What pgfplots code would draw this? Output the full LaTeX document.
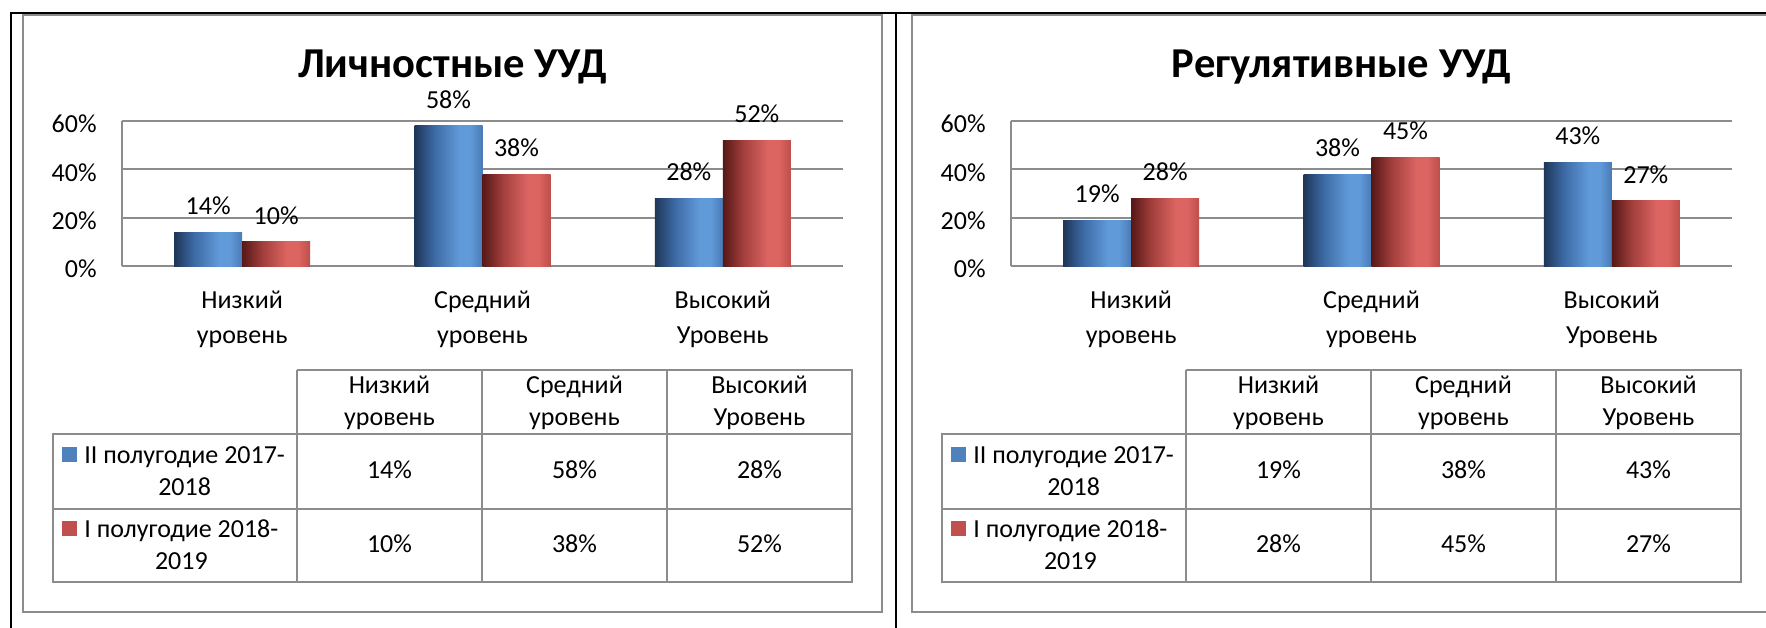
\documentclass[border=0pt]{standalone}
\usepackage{fontspec}
\setmainfont{Carlito}
\usepackage{pgfplots}
\usepackage{pgfplotstable}
\pgfplotsset{compat=1.18}

\definecolor{gridgray}{HTML}{8C8C8C}
\definecolor{keyblue}{HTML}{4F81BD}
\definecolor{keyred}{HTML}{C0504D}
\definecolor{bA}{HTML}{1E3658}
\definecolor{bB}{HTML}{3D6BA6}
\definecolor{bC}{HTML}{619AD9}
\definecolor{bD}{HTML}{4A7AB6}
\definecolor{rA}{HTML}{561816}
\definecolor{rB}{HTML}{A23F3C}
\definecolor{rC}{HTML}{DC6562}
\definecolor{rD}{HTML}{BE4E4A}

\pgfdeclarehorizontalshading{blueshade}{100bp}{color(0bp)=(bA); color(25bp)=(bA); color(40bp)=(bB); color(58bp)=(bC); color(66bp)=(bC); color(75bp)=(bD); color(100bp)=(bD)}
\pgfdeclarehorizontalshading{redshade}{100bp}{color(0bp)=(rA); color(25bp)=(rA); color(40bp)=(rB); color(58bp)=(rC); color(66bp)=(rC); color(75bp)=(rD); color(100bp)=(rD)}

\newcommand{\lbl}{\fontsize{13pt}{17.5pt}\selectfont}
\newcommand{\ttl}{\fontsize{21.3pt}{25pt}\selectfont\bfseries}

\pgfplotstableread{
x blue red
0 14 10
1 58 38
2 28 52
}\lichn
\pgfplotstableread{
x blue red
0 19 28
1 38 45
2 43 27
}\regul

\pgfplotsset{uud/.style={
  scale only axis, width=360.5pt, height=72.5pt,
  xmin=-0.5, xmax=2.5, ymin=0, ymax=60,
  ybar, bar width=34pt,
  axis x line*=bottom, axis y line*=left,
  axis line style={-, draw=gridgray, line width=1pt},
  ymajorgrids, grid style={draw=gridgray, line width=1pt},
  major tick length=0pt,
  ytick={0,20,40,60}, yticklabels={0\%,20\%,40\%,60\%},
  yticklabel style={font=\lbl, anchor=east, inner sep=0pt, xshift=-12.5pt, yshift=-1.5pt},
  xtick={0,1,2}, xticklabels={{Низкий\\уровень},{Средний\\уровень},{Высокий\\Уровень}},
  xticklabel style={font=\lbl, align=center, anchor=base, inner sep=0pt, yshift=-38.5pt},
  nodes near coords={\pgfmathprintnumber{\pgfplotspointmeta}\%},
  every node near coord/.append style={font=\lbl, anchor=center, inner sep=0pt, yshift=13.25pt, text=black},
  /pgf/number format/assume math mode=true,
  clip=false,
}}

% one bar per \addplot so that each bar gets its own shading
\newcommand{\uudbars}[1]{%
  \pgfplotsinvokeforeach{0,1,2}{%
    \addplot[draw=none, shade, shading=blueshade, bar shift=-17pt,
      x filter/.expression={x==##1 ? x : nan}] table[x=x, y=blue] {#1};
    \addplot[draw=none, shade, shading=redshade, bar shift=17pt,
      x filter/.expression={x==##1 ? x : nan}] table[x=x, y=red] {#1};
  }}

% #1 xshift, #2 title, #3-#8 values (blue L,M,H ; red L,M,H)
\newcommand{\chartframe}[8]{%
\begin{scope}[xshift=#1, x=0.5pt, y=-0.5pt]
  \draw[gridgray, line width=1.1pt] (23,15) rectangle (882,612);
  \node[font=\ttl, anchor=base, inner sep=0pt] at (452.5,77) {#2};
  % table grid
  \draw[gridgray, line width=1pt] (297,370) -- (852,370) -- (852,582) -- (53,582) -- (53,434) -- (852,434);
  \draw[gridgray, line width=1pt] (297,370) -- (297,582) (482,370) -- (482,582) (667,370) -- (667,582) (53,509) -- (852,509);
  \begin{scope}[every node/.style={font=\lbl, anchor=base, inner sep=0pt}]
    \node at (389.5,393) {Низкий};  \node at (389.5,425) {уровень};
    \node at (574.5,393) {Средний}; \node at (574.5,425) {уровень};
    \node at (759.5,393) {Высокий}; \node at (759.5,425) {Уровень};
    \node at (389.5,478) {#3}; \node at (574.5,478) {#4}; \node at (759.5,478) {#5};
    \node at (389.5,552) {#6}; \node at (574.5,552) {#7}; \node at (759.5,552) {#8};
    \node[anchor=base west] (a) at (84,463) {II полугодие 2017-};
    \node at (a.base |- 0,495) {2018};
    \node[anchor=base west] (b) at (84,537) {I полугодие 2018-};
    \node at (b.base |- 0,569) {2019};
  \end{scope}
  \fill[keyblue] (62,447) rectangle (77,462);
  \fill[keyred] (62,521) rectangle (77,536);
\end{scope}}

\begin{document}
\begin{tikzpicture}
\useasboundingbox (0,0) rectangle (883pt,-313.5pt);
\fill[white] (0,0) rectangle (883pt,-313.5pt);

\chartframe{0pt}{Личностные УУД}{14\%}{58\%}{28\%}{10\%}{38\%}{52\%}
\chartframe{444.5pt}{Регулятивные УУД}{19\%}{38\%}{43\%}{28\%}{45\%}{27\%}

\begin{scope}[x=0.5pt, y=-0.5pt]
  \draw[black, line width=1.2pt] (10,13) -- (1780,13);
  \draw[black, line width=1.2pt] (11,13) -- (11,640);
  \draw[black, line width=1.2pt] (896,13) -- (896,640);
\end{scope}

\begin{axis}[uud, at={(61pt,-133pt)}, anchor=south west]
  \uudbars{\lichn}
\end{axis}

\begin{axis}[uud, at={(505.5pt,-133pt)}, anchor=south west]
  \uudbars{\regul}
\end{axis}
\end{tikzpicture}
\end{document}
